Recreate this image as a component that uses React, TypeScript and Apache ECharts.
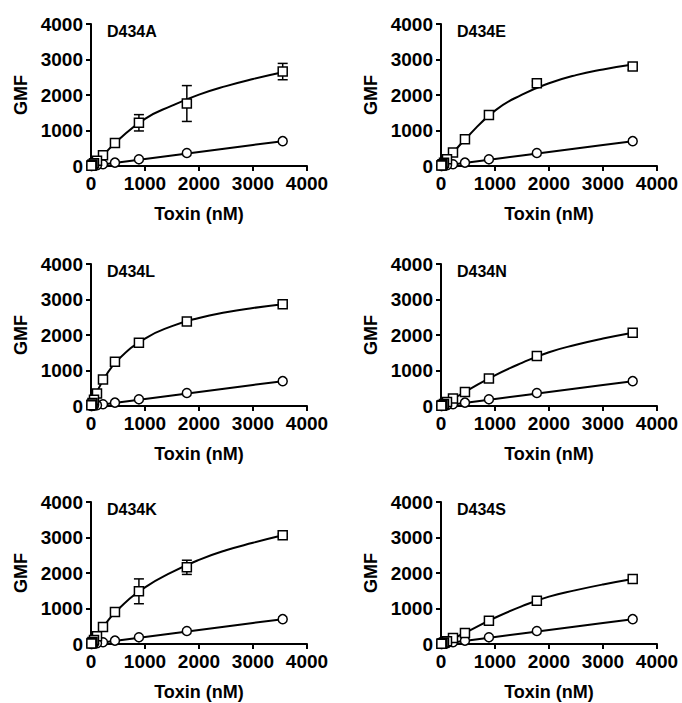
import React, { useEffect, useRef } from "react";
import * as echarts from "echarts";

// ---- data ----
const mutants = ["D434A", "D434E", "D434L", "D434N", "D434K", "D434S"];
const xTicks = [0, 1000, 2000, 3000, 4000];
const yTicks = [0, 1000, 2000, 3000, 4000];

// toxin concentrations (nM)
const toxinConc = [3550, 1775, 887.5, 443.75, 221.9, 110.9, 55.5, 27.7, 13.9, 6.9];
// control (circles), same in every panel
const controlGMF = [700, 368, 188, 95, 48, 24, 12, 6, 3, 1.5];

// mutant binding (squares)
const gmfA = [2660, 1760, 1217, 650, 300, 150, 75, 40, 20, 10];
const gmfE = [2800, 2330, 1434, 755, 377, 190, 95, 48, 24, 12];
const gmfL = [2868, 2377, 1783, 1245, 745, 350, 175, 88, 44, 22];
const gmfN = [2066, 1406, 774, 396, 208, 110, 55, 28, 14, 7];
const gmfK = [3061, 2160, 1484, 901, 479, 220, 110, 55, 28, 14];
const gmfS = [1831, 1221, 657, 310, 169, 80, 40, 20, 10, 5];

// error bars (SD) for squares
const errA = [230, 505, 230, 0, 0, 0, 0, 0, 0, 0];
const errE = [90, 60, 0, 0, 0, 0, 0, 0, 0, 0];
const errL = [40, 0, 0, 0, 0, 0, 0, 0, 0, 0];
const errN = [0, 0, 0, 0, 0, 0, 0, 0, 0, 0];
const errK = [40, 200, 350, 0, 0, 0, 0, 0, 0, 0];
const errS = [0, 0, 0, 0, 0, 0, 0, 0, 0, 0];

// fitted curves
const fitX = [0, 100, 250, 500, 1000, 1500, 2000, 2500, 3000, 3550];
const fitA = [0, 125, 345, 725, 1330, 1700, 2010, 2250, 2450, 2640];
const fitE = [0, 165, 420, 840, 1560, 2010, 2330, 2560, 2720, 2858];
const fitL = [0, 360, 790, 1300, 1900, 2250, 2480, 2640, 2760, 2868];
const fitN = [0, 90, 225, 445, 865, 1215, 1514, 1724, 1899, 2064];
const fitK = [0, 215, 530, 975, 1595, 2025, 2370, 2640, 2850, 3061];
const fitS = [0, 70, 175, 355, 740, 1065, 1335, 1517, 1677, 1831];
const fitControl = [0, 20, 50, 99, 198, 297, 396, 495, 594, 700];

const gmfAll = [gmfA, gmfE, gmfL, gmfN, gmfK, gmfS];
const errAll = [errA, errE, errL, errN, errK, errS];
const fitAll = [fitA, fitE, fitL, fitN, fitK, fitS];

const FONT = "'Liberation Sans', Arial, Helvetica, sans-serif";

export default function App() {
  const ref = useRef<HTMLDivElement>(null);
  useEffect(() => {
    if (!ref.current) return;
    const chart = echarts.init(ref.current, undefined, { renderer: "svg" });
    const colLeft = [91, 441];
    const rowTop = [24, 264, 502];
    const gw = 216;
    const gh = 142;

    const grids: any[] = [];
    const xAxes: any[] = [];
    const yAxes: any[] = [];
    const titles: any[] = [];
    const series: any[] = [];

    mutants.forEach((name, i) => {
      const col = i % 2;
      const row = Math.floor(i / 2);
      grids.push({ left: colLeft[col], top: rowTop[row], width: gw, height: gh });
      const axisCommon = {
        min: 0,
        max: 4000,
        interval: 1000,
        gridIndex: i,
        splitLine: { show: false },
        axisLine: { show: true, lineStyle: { color: "#000", width: 2 } },
        axisTick: { show: true, length: 5, lineStyle: { color: "#000", width: 2 } },
        nameTextStyle: { color: "#000", fontFamily: FONT, fontWeight: "bold", fontSize: 18 },
      };
      xAxes.push({
        ...axisCommon,
        type: "value",
        name: "Toxin (nM)",
        nameLocation: "middle",
        nameGap: 39,
        axisLabel: {
          color: "#000",
          fontFamily: FONT,
          fontWeight: "bold",
          fontSize: 19,
          margin: 8,
          formatter: (v: number) => (xTicks.includes(v) ? String(v) : ""),
        },
      });
      yAxes.push({
        ...axisCommon,
        type: "value",
        name: "GMF",
        nameLocation: "middle",
        nameGap: 61,
        axisLabel: {
          color: "#000",
          fontFamily: FONT,
          fontWeight: "bold",
          fontSize: 19,
          margin: 8,
          formatter: (v: number) => (yTicks.includes(v) ? String(v) : ""),
        },
      });
      titles.push({
        text: name,
        left: colLeft[col] + 16,
        top: rowTop[row] - 1,
        padding: 0,
        textStyle: { color: "#000", fontFamily: FONT, fontWeight: "bold", fontSize: 16 },
      });

      const gmf = gmfAll[i];
      const err = errAll[i];
      const fit = fitAll[i];

      series.push({
        type: "line",
        xAxisIndex: i,
        yAxisIndex: i,
        data: fitX.map((x, k) => [x, fit[k]]),
        smooth: 0.5,
        showSymbol: false,
        lineStyle: { color: "#000", width: 2 },
        z: 2,
        silent: true,
      });
      series.push({
        type: "line",
        xAxisIndex: i,
        yAxisIndex: i,
        data: fitX.map((x, k) => [x, fitControl[k]]),
        smooth: false,
        showSymbol: false,
        lineStyle: { color: "#000", width: 2 },
        z: 2,
        silent: true,
      });
      const errData = toxinConc
        .map((x, k) => [x, gmf[k] - err[k], gmf[k] + err[k], err[k]])
        .filter((d) => d[3] > 0);
      series.push({
        type: "custom",
        xAxisIndex: i,
        yAxisIndex: i,
        data: errData,
        encode: { x: 0, y: [1, 2] },
        z: 3,
        silent: true,
        renderItem: (params: any, api: any) => {
          const x = api.value(0);
          const lo = api.coord([x, api.value(1)]);
          const hi = api.coord([x, api.value(2)]);
          const w = 5;
          const st = { stroke: "#000", lineWidth: 1.5 };
          return {
            type: "group",
            children: [
              { type: "line", shape: { x1: lo[0], y1: lo[1], x2: hi[0], y2: hi[1] }, style: st },
              { type: "line", shape: { x1: lo[0] - w, y1: lo[1], x2: lo[0] + w, y2: lo[1] }, style: st },
              { type: "line", shape: { x1: hi[0] - w, y1: hi[1], x2: hi[0] + w, y2: hi[1] }, style: st },
            ],
          };
        },
      });
      series.push({
        type: "scatter",
        xAxisIndex: i,
        yAxisIndex: i,
        data: toxinConc.map((x, k) => [x, controlGMF[k]]),
        symbol: "circle",
        symbolSize: 9,
        itemStyle: { color: "#fff", borderColor: "#000", borderWidth: 1.5, opacity: 1 },
        z: 4,
        silent: true,
      });
      series.push({
        type: "scatter",
        xAxisIndex: i,
        yAxisIndex: i,
        data: toxinConc.map((x, k) => [x, gmf[k]]),
        symbol: "rect",
        symbolSize: 9,
        itemStyle: { color: "#fff", borderColor: "#000", borderWidth: 1.5, opacity: 1 },
        z: 5,
        silent: true,
      });
    });

    chart.setOption({
      animation: false,
      backgroundColor: "#fff",
      title: titles,
      grid: grids,
      xAxis: xAxes,
      yAxis: yAxes,
      series,
    });
    return () => chart.dispose();
  }, []);

  return (
    <div
      ref={ref}
      style={{ position: "fixed", left: 0, top: 0, width: 682, height: 703, background: "#fff" }}
    />
  );
}
